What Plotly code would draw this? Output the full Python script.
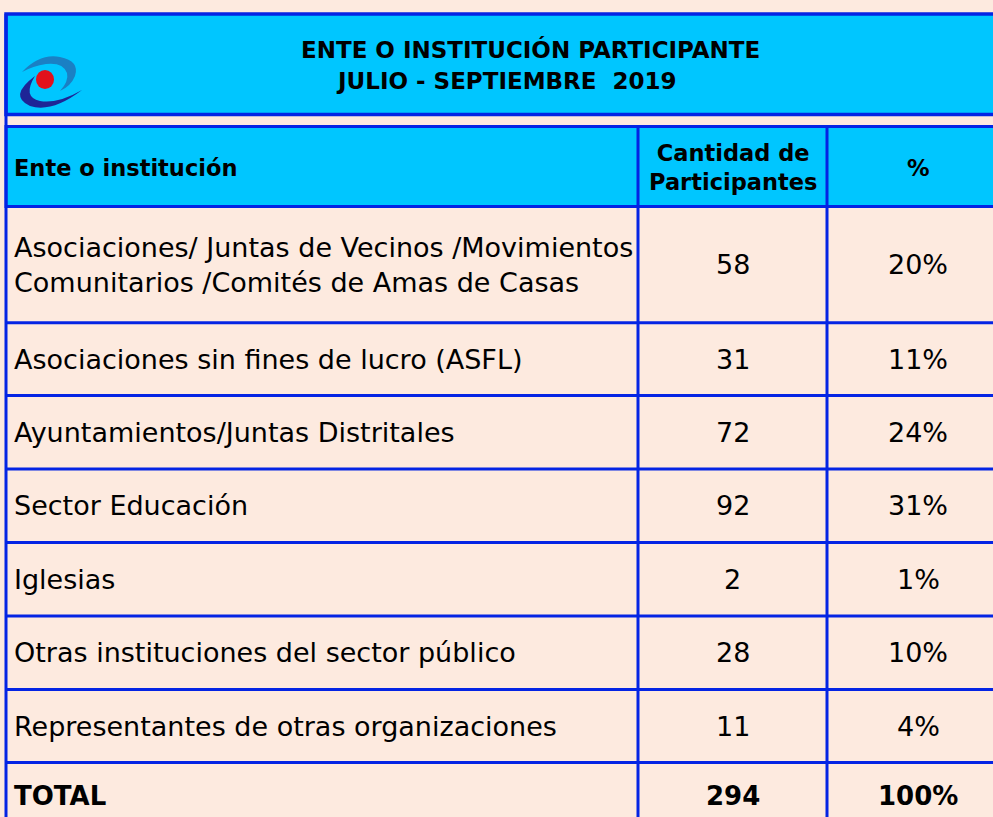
import plotly.graph_objects as go

# ---------------- data ----------------
title_line1 = "ENTE O INSTITUCIÓN PARTICIPANTE"
title_line2 = "JULIO - SEPTIEMBRE  2019"
col_headers = ["Ente o institución", "Cantidad de<br>Participantes", "%"]
entities = [
    "Asociaciones/ Juntas de Vecinos /Movimientos<br>Comunitarios /Comités de Amas de Casas",
    "Asociaciones sin fines de lucro (ASFL)",
    "Ayuntamientos/Juntas Distritales",
    "Sector Educación",
    "Iglesias",
    "Otras instituciones del sector público",
    "Representantes de otras organizaciones",
]
participants = [58, 31, 72, 92, 2, 28, 11]
percents = ["20%", "11%", "24%", "31%", "1%", "10%", "4%"]
total_label = "TOTAL"
total_participants = 294
total_percent = "100%"

# ---------------- styling / layout ----------------
W, H = 993, 817
PEACH = "#FDEADF"
CYAN = "#00C6FF"
BLUE = "#0424E4"
FONT = "DejaVu Sans"

X_LEFT, X_RIGHT = 6, 1012
X_DIV1, X_DIV2 = 638, 827
TITLE_Y0, TITLE_Y1 = 14, 114.5
HEAD_Y0, HEAD_Y1 = 126.5, 206.5
row_heights = [116.3, 72.7, 73.5, 73.5, 73.5, 73.5, 73.0]
BOTTOM = 840

fig = go.Figure()
shapes = []
ann = []

# title box
shapes.append(dict(type="rect", x0=X_LEFT, x1=X_RIGHT, y0=TITLE_Y0, y1=TITLE_Y1,
                   fillcolor=CYAN, line=dict(color=BLUE, width=3.5), layer="below"))
# header box
shapes.append(dict(type="rect", x0=X_LEFT, x1=X_RIGHT, y0=HEAD_Y0, y1=HEAD_Y1,
                   fillcolor=CYAN, line=dict(color=BLUE, width=3), layer="below"))
# left border continuous
shapes.append(dict(type="line", x0=X_LEFT, x1=X_LEFT, y0=TITLE_Y0, y1=BOTTOM,
                   line=dict(color=BLUE, width=3)))
# vertical dividers
for xd in (X_DIV1, X_DIV2):
    shapes.append(dict(type="line", x0=xd, x1=xd, y0=HEAD_Y0, y1=BOTTOM,
                       line=dict(color=BLUE, width=3)))

# title text
ann.append(dict(x=530, y=49, text="<b>" + title_line1 + "</b>", showarrow=False,
                font=dict(family=FONT, size=23, color="black"), xanchor="center", yanchor="middle"))
ann.append(dict(x=506, y=80.5, text="<b>" + title_line2 + "</b>", showarrow=False,
                font=dict(family=FONT, size=23, color="black"), xanchor="center", yanchor="middle"))

# header text
hy = (HEAD_Y0 + HEAD_Y1) / 2 + 1
ann.append(dict(x=12, y=hy, text="<b>" + col_headers[0] + "</b>", showarrow=False,
                font=dict(family=FONT, size=22.5, color="black"), xanchor="left", yanchor="middle"))
ann.append(dict(x=(X_DIV1 + X_DIV2) / 2, y=hy, text="<b>" + col_headers[1] + "</b>", showarrow=False,
                font=dict(family=FONT, size=22.5, color="black"), xanchor="center", yanchor="middle"))
ann.append(dict(x=918, y=hy, text="<b>" + col_headers[2] + "</b>", showarrow=False,
                font=dict(family=FONT, size=22.5, color="black"), xanchor="center", yanchor="middle"))

# body rows
y = HEAD_Y1
for i, name in enumerate(entities):
    h = row_heights[i]
    cy = y + h / 2
    ann.append(dict(x=12, y=cy, text=name, showarrow=False, align="left",
                    font=dict(family=FONT, size=27, color="black"), xanchor="left", yanchor="middle"))
    ann.append(dict(x=(X_DIV1 + X_DIV2) / 2, y=cy, text=str(participants[i]), showarrow=False,
                    font=dict(family=FONT, size=27, color="black"), xanchor="center", yanchor="middle"))
    ann.append(dict(x=918, y=cy, text=percents[i], showarrow=False,
                    font=dict(family=FONT, size=27, color="black"), xanchor="center", yanchor="middle"))
    y += h
    shapes.append(dict(type="line", x0=X_LEFT, x1=X_RIGHT, y0=y, y1=y,
                       line=dict(color=BLUE, width=3)))

# total row
cy = y + 33
ann.append(dict(x=12, y=cy, text="<b>" + total_label + "</b>", showarrow=False,
                font=dict(family=FONT, size=26, color="black"), xanchor="left", yanchor="middle"))
ann.append(dict(x=(X_DIV1 + X_DIV2) / 2, y=cy, text="<b>" + str(total_participants) + "</b>", showarrow=False,
                font=dict(family=FONT, size=26, color="black"), xanchor="center", yanchor="middle"))
ann.append(dict(x=918, y=cy, text="<b>" + total_percent + "</b>", showarrow=False,
                font=dict(family=FONT, size=26, color="black"), xanchor="center", yanchor="middle"))

# logo
shapes.append(dict(type="path",
                   path="M 22 72 Q 40 53 60 57 Q 80 61 75 76 Q 71 86 60 91 "
                        "Q 69 81 67 73 Q 63 62 46 64 Q 33 66 22 72 Z",
                   fillcolor="#1A80C4", line=dict(width=0)))
shapes.append(dict(type="path",
                   path="M 35 76 Q 8 96 30 106 Q 52 113 82 90 "
                        "Q 58 104 40 101 Q 22 97 35 76 Z",
                   fillcolor="#1E2596", line=dict(width=0)))
shapes.append(dict(type="circle", x0=36, x1=54, y0=70, y1=89,
                   fillcolor="#E2101C", line=dict(width=0)))

fig.update_layout(
    width=W, height=H,
    margin=dict(l=0, r=0, t=0, b=0),
    paper_bgcolor=PEACH, plot_bgcolor=PEACH,
    xaxis=dict(range=[0, W], visible=False, fixedrange=True),
    yaxis=dict(range=[H, 0], visible=False, fixedrange=True),
    shapes=shapes, annotations=ann, showlegend=False,
)
fig.write_html(
    "out.html",
    config={"displayModeBar": False},
    post_script="document.body.style.margin='0';document.body.style.overflow='hidden';",
)
